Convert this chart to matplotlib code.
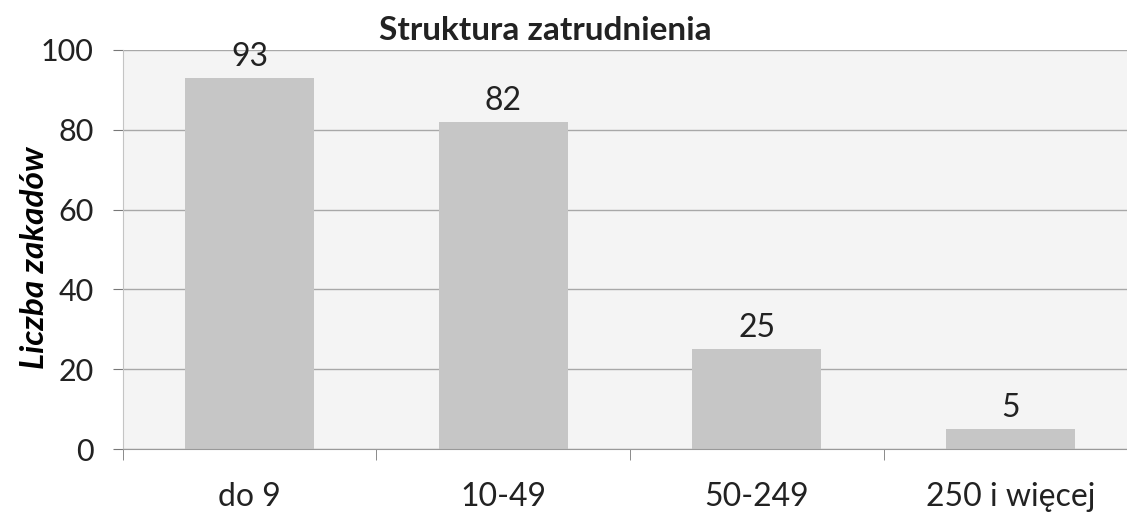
import matplotlib
matplotlib.use('Agg')
from matplotlib import pyplot as plt

categories = ["do 9", "10-49", "50-249", "250 i więcej"]
values = [93, 82, 25, 5]

plt.rcParams['font.family'] = ['Lato', 'DejaVu Sans']

fig = plt.figure(figsize=(11.27, 5.17), dpi=100)
ax = fig.add_axes([0.109, 0.1315, 0.9, 0.772])
ax.set_facecolor('#f4f4f4')

x = range(len(categories))
bars = ax.bar(x, values, width=0.51, color='#c6c6c6', zorder=2)
for b, v in zip(bars, values):
    ax.text(b.get_x() + b.get_width() / 2, v + 1.5, str(v), ha='center', va='bottom',
            fontsize=23, color='#222222')

ax.set_xlim(-0.5, 3.5)
ax.set_ylim(0, 100)
ax.set_yticks([0, 20, 40, 60, 80, 100])
ax.set_xticks(list(x))
ax.set_xticklabels(categories)
ax.set_xticks([-0.5, 0.5, 1.5, 2.5], minor=True)
ax.tick_params(axis='x', which='major', length=0, pad=24, labelsize=23, colors='#222222')
ax.tick_params(axis='x', which='minor', length=8, color='#777777', direction='out')
ax.tick_params(axis='y', length=7, color='#777777', labelsize=22, labelcolor='#222222', pad=14)
ax.grid(axis='y', color='#a8a8a8', linewidth=1.0, zorder=1)

for s in ['top', 'right']:
    ax.spines[s].set_visible(False)
ax.spines['left'].set_color('#c4c4c4')
ax.spines['bottom'].set_color('#999999')

ax.set_ylabel('Liczba zakadów', fontsize=24, fontweight='bold', fontstyle='italic')
ax.yaxis.set_label_coords(-0.073, 0.48)
fig.text(545 / 1127, 1 - 30 / 517, 'Struktura zatrudnienia', ha='center', va='center',
         fontsize=24, fontweight='bold', color='#222222')

plt.savefig('out.png', dpi=100)
plt.close()
